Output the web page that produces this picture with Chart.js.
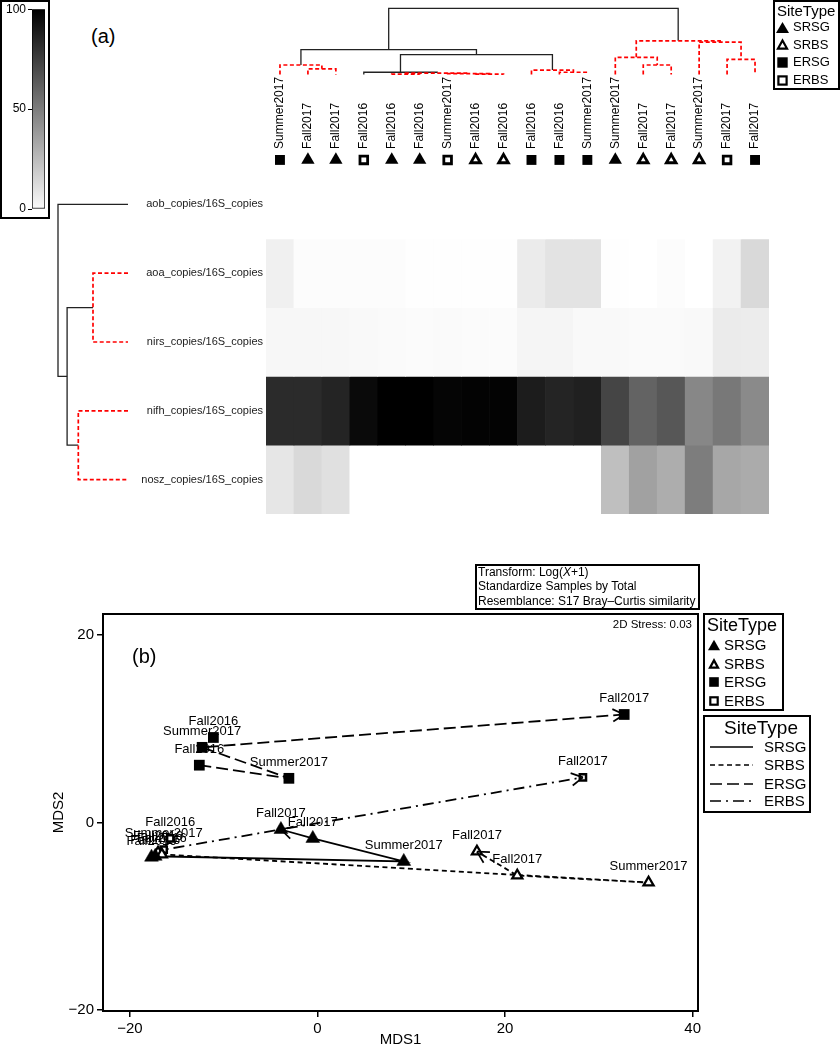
<!DOCTYPE html>
<html>
<head>
<meta charset="utf-8">
<script src="https://cdn.jsdelivr.net/npm/chart.js"></script>
<style>
  body { margin: 0; background: #fff; font-family: "Liberation Sans", Arial, sans-serif; color: #000; }
  #page { position: relative; width: 840px; height: 1050px; overflow: hidden; }
  canvas, .box, .txt, .sym { position: absolute; }
  .box { border: 2px solid #000; box-sizing: border-box; background: #fff; }
  .txt { white-space: nowrap; }
  .sym svg { display: block; }
</style>
</head>
<body>
<div id="page">
  <canvas id="cb" width="50" height="219" style="left:0;top:0"></canvas>
  <canvas id="top" width="531" height="176" style="left:252px;top:0"></canvas>
  <canvas id="rowDendro" width="100" height="355" style="left:40px;top:165px"></canvas>
  <canvas id="heat" width="660" height="355" style="left:130px;top:165px"></canvas>
  <canvas id="mds" width="840" height="510" style="left:0;top:540px"></canvas>
</div>
<script>
const FONT = '"Liberation Sans", Arial, sans-serif';
Chart.defaults.font.family = FONT;
Chart.defaults.color = '#000';

// ---------- panel (a): heatmap ----------
const colLabels = ['Summer2017', 'Fall2017', 'Fall2017', 'Fall2016', 'Fall2016', 'Fall2016', 'Summer2017', 'Fall2016', 'Fall2016',
  'Fall2016', 'Fall2016', 'Summer2017', 'Summer2017', 'Fall2017', 'Fall2017', 'Summer2017', 'Fall2017', 'Fall2017'];
const colTypes = ['ERSG', 'SRSG', 'SRSG', 'ERBS', 'SRSG', 'SRSG', 'ERBS', 'SRBS', 'SRBS',
  'ERSG', 'ERSG', 'ERSG', 'SRSG', 'SRBS', 'SRBS', 'SRBS', 'ERBS', 'ERSG'];
const rowLabels = ['aob_copies/16S_copies', 'aoa_copies/16S_copies', 'nirs_copies/16S_copies', 'nifh_copies/16S_copies', 'nosz_copies/16S_copies'];

const aob = [0, 0, 0, 0, 0, 0, 0, 0, 0, 0, 0, 0, 0, 0, 0, 0, 0, 0];
const aoa = [6, 1, 1, 1, 1, 0.5, 0.5, 0.5, 0.5, 8, 11, 11, 0.5, 0, 1, 0, 5, 15];
const nirs = [3, 3, 3, 2.5, 2, 1.5, 2, 1.5, 1.5, 4, 4, 2.5, 2.5, 2, 2, 2.5, 8, 7.5];
const nifh = [83, 83, 86, 96, 100, 100, 98, 99, 99, 89, 86, 87.5, 73, 61, 66, 47, 53, 46];
const nosz = [10, 15, 12, 0, 0, 0, 0, 0, 0, 0, 0, 0, 25, 37, 32, 51, 34.5, 33];
const heatRows = [aob, aoa, nirs, nifh, nosz];

// dendrograms: [left, right, height]; negative = leaf position, positive = earlier merge (1-based)
const colMerges = [[-2, -3, 0.087], [-1, 1, 0.145], [-5, -6, 0.008], [-8, -9, 0.006], [-7, 4, 0.014], [3, 5, 0.022],
  [-4, 6, 0.035], [-11, -12, 0.035], [-10, 8, 0.068], [7, 9, 0.30], [2, 10, 0.377], [-14, -15, 0.145], [-13, 12, 0.26],
  [-17, -18, 0.23], [-16, 14, 0.49], [13, 15, 0.51], [11, 16, 1.0]];
const colMergeRed = [1, 1, 1, 1, 1, 1, 0, 1, 1, 0, 0, 1, 1, 1, 1, 1, 0];
const rowMerges = [[-2, -3, 0.5], [-4, -5, 0.71], [1, 2, 0.87], [-1, 3, 1.0]];
const rowMergeRed = [1, 1, 0, 0];

const cbTicks = [0, 50, 100];

// ---------- panel (b): nMDS ----------
const srsgX = [-17.7, -17.3, -3.9, -0.5, 9.2];
const srsgY = [-3.7, -3.6, -0.75, -1.7, -4.15];
const srsgLab = ['Fall2016', 'Fall2016', 'Fall2017', 'Fall2017', 'Summer2017'];
const srbsX = [-17.0, -16.6, 17.0, 21.3, 35.3];
const srbsY = [-3.2, -3.4, -3.1, -5.65, -6.4];
const srbsLab = ['Fall2016', 'Fall2016', 'Fall2017', 'Fall2017', 'Summer2017'];
const ersgX = [-11.1, -12.3, -12.6, -3.05, 32.7];
const ersgY = [9.05, 8.0, 6.1, 4.7, 11.5];
const ersgLab = ['Fall2016', 'Summer2017', 'Fall2016', 'Summer2017', 'Fall2017'];
const erbsX = [-15.7, -16.4, 28.3];
const erbsY = [-1.7, -2.9, 4.8];
const erbsLab = ['Fall2016', 'Summer2017', 'Fall2017'];
// trajectories: indices into the arrays above, arrow at the last one
const srsgPath = [1, 4, 3, 2];
const srbsPath = [1, 4, 3, 2];
const ersgPath = [2, 3, 1, 4];
const erbsPath = [0, 1, 2];
const mdsXTicks = [-20, 0, 20, 40];
const mdsYTicks = [-20, 0, 20];

const siteTypes = ['SRSG', 'SRBS', 'ERSG', 'ERBS'];

// ---------- helpers ----------
const gray = v => { const g = Math.round(255 * (1 - v / 100)); return `rgb(${g},${g},${g})`; };
const isFilled = t => t === 'SRSG' || t === 'ERSG';
const isTri = t => t === 'SRSG' || t === 'SRBS';
const lineDash = { SRSG: [], SRBS: [5, 3.5], ERSG: [12, 5], ERBS: [11, 5, 2, 5] };

function dendroNodes(merges) {
  const pos = [], hgt = [];
  const get = k => k < 0 ? [-k, 0] : [pos[k - 1], hgt[k - 1]];
  return merges.map(([a, b, h], i) => {
    const [xa, ha] = get(a), [xb, hb] = get(b);
    pos[i] = (xa + xb) / 2; hgt[i] = h;
    return [[xa, ha], [xa, h], [xb, h], [xb, hb]];
  });
}
function dendroStyle(red) {
  return red
    ? { borderColor: '#ff0000', borderWidth: 1.7, borderDash: [4, 2.5] }
    : { borderColor: '#222', borderWidth: 1.3, borderDash: [] };
}
const baseOpts = {
  responsive: false, animation: false, events: [],
  plugins: { legend: { display: false }, tooltip: { enabled: false } },
};

// ---------- colour bar ----------
new Chart(document.getElementById('cb'), {
  type: 'bar',
  data: {
    labels: [''],
    datasets: [{
      data: [100],
      backgroundColor: c => {
        const a = c.chart.chartArea;
        if (!a) return '#888';
        const g = c.chart.ctx.createLinearGradient(0, a.bottom, 0, a.top);
        g.addColorStop(0, '#fafafa');
        g.addColorStop(1, '#000');
        return g;
      },
      borderColor: '#000', borderWidth: 1, borderSkipped: false,
      barPercentage: 1, categoryPercentage: 1,
    }],
  },
  options: {
    ...baseOpts,
    layout: { padding: { top: 9, bottom: 10, right: 5, left: 0 } },
    scales: {
      x: { display: false },
      y: {
        min: 0, max: 100,
        afterBuildTicks: s => { s.ticks = cbTicks.map(v => ({ value: v })); },
        afterFit: s => { s.width = 32; },
        grid: { drawOnChartArea: false, tickLength: 4, color: '#000' },
        border: { display: false },
        ticks: { padding: 2, font: { size: 12 }, color: '#000' },
      },
    },
  },
});

// ---------- column dendrogram, markers and labels ----------
const markerLevel = -1.29;
const colNodes = dendroNodes(colMerges);
const topDatasets = colNodes.map((seg, i) => ({
  type: 'line',
  data: seg.map(([x, y]) => ({ x, y })),
  pointRadius: 0, fill: false, tension: 0, clip: false,
  ...dendroStyle(colMergeRed[i]),
}));
topDatasets.push({
  type: 'scatter',
  data: colTypes.map((t, i) => ({ x: i + 1, y: markerLevel })),
  pointStyle: colTypes.map(t => isTri(t) ? 'triangle' : 'rect'),
  pointRadius: colTypes.map(t => isTri(t) ? (isFilled(t) ? 7.7 : 5.6) : (isFilled(t) ? 7 : 5.4)),
  pointBackgroundColor: colTypes.map(t => isFilled(t) ? '#000' : '#fff'),
  pointBorderColor: '#000',
  pointBorderWidth: colTypes.map(t => isFilled(t) ? 0 : 2.8),
  clip: false,
});
const colLabelPlugin = {
  id: 'colLabels',
  afterDatasetsDraw(chart) {
    const { ctx, scales: { x, y } } = chart;
    ctx.save();
    ctx.font = '12px ' + FONT;
    ctx.fillStyle = '#000';
    ctx.textAlign = 'left';
    ctx.textBaseline = 'middle';
    const y0 = y.getPixelForValue(markerLevel) - 11;
    colLabels.forEach((lab, i) => {
      ctx.save();
      ctx.translate(x.getPixelForValue(i + 1), y0);
      ctx.rotate(-Math.PI / 2);
      ctx.fillText(lab, 0, 0);
      ctx.restore();
    });
    ctx.restore();
  },
};
new Chart(document.getElementById('top'), {
  type: 'scatter',
  data: { datasets: topDatasets },
  options: {
    ...baseOpts,
    layout: { padding: { left: 14, right: 14, top: 4, bottom: 6 } },
    scales: {
      x: { type: 'linear', display: false, min: 0.5, max: 18.5 },
      y: { type: 'linear', display: false, min: -97 / 69, max: 1 },
    },
  },
  plugins: [colLabelPlugin],
});

// ---------- row dendrogram ----------
const rowNodes = dendroNodes(rowMerges);
new Chart(document.getElementById('rowDendro'), {
  type: 'scatter',
  data: {
    datasets: rowNodes.map((seg, i) => ({
      type: 'line',
      data: seg.map(([p, h]) => ({ x: h, y: p })),
      pointRadius: 0, fill: false, tension: 0, clip: false,
      ...dendroStyle(rowMergeRed[i]),
    })),
  },
  options: {
    ...baseOpts,
    layout: { padding: { left: 18, right: 12, top: 5, bottom: 6 } },
    scales: {
      x: { type: 'linear', display: false, min: 0, max: 1, reverse: true },
      y: { type: 'linear', display: false, min: 0.5, max: 5.5, reverse: true },
    },
  },
});

// ---------- heatmap ----------
const rowLabelPlugin = {
  id: 'rowLabels',
  afterDatasetsDraw(chart) {
    const { ctx, chartArea, scales: { y } } = chart;
    ctx.save();
    ctx.font = '11px ' + FONT;
    ctx.fillStyle = '#222';
    ctx.textAlign = 'right';
    ctx.textBaseline = 'middle';
    rowLabels.forEach((lab, r) => ctx.fillText(lab, chartArea.left - 3, y.getPixelForValue(r + 0.5)));
    ctx.restore();
  },
};
new Chart(document.getElementById('heat'), {
  type: 'bar',
  data: {
    labels: colLabels.map((_, i) => String(i + 1)),
    datasets: heatRows.map((vals, r) => ({
      data: vals.map(() => [r, r + 1]),
      backgroundColor: vals.map(gray),
      borderWidth: 0,
      barPercentage: 1, categoryPercentage: 1,
      grouped: false,
    })),
  },
  options: {
    ...baseOpts,
    layout: { padding: { left: 136, right: 21, top: 5, bottom: 6 } },
    scales: {
      x: { display: false },
      y: { type: 'linear', display: false, min: 0, max: 5, reverse: true },
    },
  },
  plugins: [rowLabelPlugin],
});

// ---------- panel (b) ----------
const groups = [
  { type: 'SRSG', xs: srsgX, ys: srsgY, labs: srsgLab, path: srsgPath },
  { type: 'SRBS', xs: srbsX, ys: srbsY, labs: srbsLab, path: srbsPath },
  { type: 'ERSG', xs: ersgX, ys: ersgY, labs: ersgLab, path: ersgPath },
  { type: 'ERBS', xs: erbsX, ys: erbsY, labs: erbsLab, path: erbsPath },
];
const markerStyle = {
  SRSG: { pointStyle: 'triangle', pointBackgroundColor: '#000', pointRadius: 8, pointBorderWidth: 0.5 },
  SRBS: { pointStyle: 'triangle', pointBackgroundColor: '#fff', pointRadius: 5.8, pointBorderWidth: 2.3 },
  ERSG: { pointStyle: 'rect', pointBackgroundColor: '#000', pointRadius: 7.6, pointBorderWidth: 0 },
  ERBS: { pointStyle: 'rect', pointBackgroundColor: '#fff', pointRadius: 4.4, pointBorderWidth: 2.5 },
};
const mdsDatasets = [];
groups.forEach(g => {
  mdsDatasets.push({
    label: g.type,
    data: g.xs.map((x, i) => ({ x, y: g.ys[i] })),
    pointLabels: g.labs,
    pointBorderColor: '#000',
    showLine: false,
    order: 0,
    ...markerStyle[g.type],
  });
});
groups.forEach(g => {
  mdsDatasets.push({
    label: g.type + ' trajectory',
    data: g.path.map(i => ({ x: g.xs[i], y: g.ys[i] })),
    showLine: true, pointRadius: 0, fill: false, tension: 0,
    borderColor: '#000', borderWidth: 1.8, borderDash: lineDash[g.type],
    arrow: true,
    order: 1,
  });
});
const mdsDecor = {
  id: 'mdsDecor',
  beforeDatasetsDraw(chart) {
    const ctx = chart.ctx;
    ctx.save();
    ctx.font = '13px ' + FONT;
    ctx.fillStyle = '#000';
    ctx.textAlign = 'center';
    ctx.textBaseline = 'middle';
    chart.data.datasets.forEach((ds, di) => {
      if (!ds.pointLabels) return;
      chart.getDatasetMeta(di).data.forEach((pt, i) => ctx.fillText(ds.pointLabels[i], pt.x, pt.y - 16));
    });
    ctx.restore();
  },
  afterDatasetsDraw(chart) {
    const { ctx, chartArea: a } = chart;
    ctx.save();
    ctx.strokeStyle = '#000';
    ctx.setLineDash([]);
    ctx.lineWidth = 1.7;
    chart.data.datasets.forEach((ds, di) => {
      if (!ds.arrow) return;
      const pts = chart.getDatasetMeta(di).data;
      const p = pts[pts.length - 1], q = pts[pts.length - 2];
      const ang = Math.atan2(q.y - p.y, q.x - p.x);
      [-0.5, 0.5].forEach(d => {
        ctx.beginPath();
        ctx.moveTo(p.x, p.y);
        ctx.lineTo(p.x + 13 * Math.cos(ang + d), p.y + 13 * Math.sin(ang + d));
        ctx.stroke();
      });
    });
    ctx.lineWidth = 2;
    ctx.strokeRect(a.left, a.top, a.right - a.left, a.bottom - a.top);
    ctx.restore();
  },
};
const minus = v => String(v).replace('-', '\u2212');
new Chart(document.getElementById('mds'), {
  type: 'scatter',
  data: { datasets: mdsDatasets },
  options: {
    ...baseOpts,
    layout: { padding: { left: 0, right: 142, top: 74, bottom: 0 } },
    scales: {
      x: {
        type: 'linear', position: 'bottom', min: -22.87, max: 40.57,
        afterBuildTicks: s => { s.ticks = mdsXTicks.map(v => ({ value: v })); },
        afterFit: s => { s.height = 39; },
        grid: { drawOnChartArea: false, tickLength: 6, color: '#000', lineWidth: 1.5 },
        border: { display: false },
        ticks: { padding: 3, font: { size: 15 }, color: '#000', callback: minus, maxRotation: 0 },
        title: { display: true, text: 'MDS1', font: { size: 15 }, color: '#000', padding: { top: 0, bottom: 1 } },
      },
      y: {
        type: 'linear', position: 'left', min: -20.08, max: 22.2,
        afterBuildTicks: s => { s.ticks = mdsYTicks.map(v => ({ value: v })); },
        afterFit: s => { s.width = 103; },
        grid: { drawOnChartArea: false, tickLength: 6, color: '#000', lineWidth: 1.5 },
        border: { display: false },
        ticks: { padding: 3, font: { size: 15 }, color: '#000', callback: minus },
        title: { display: true, text: 'MDS2', font: { size: 15 }, color: '#000', padding: { top: 50, bottom: 0 } },
      },
    },
  },
  plugins: [mdsDecor],
});

// ---------- text, boxes and legends ----------
const page = document.getElementById('page');
function box(x, y, w, h) {
  const d = document.createElement('div');
  d.className = 'box';
  Object.assign(d.style, { left: x + 'px', top: y + 'px', width: w + 'px', height: h + 'px' });
  page.insertBefore(d, page.firstChild);
}
function put(html, x, cy, size, align) {
  const d = document.createElement('div');
  d.className = 'txt';
  d.innerHTML = html;
  Object.assign(d.style, {
    left: x + 'px', top: (cy - size * 0.6) + 'px',
    fontSize: size + 'px', lineHeight: (size * 1.2) + 'px',
  });
  if (align === 'center') d.style.transform = 'translateX(-50%)';
  if (align === 'right') d.style.transform = 'translateX(-100%)';
  page.appendChild(d);
}
function symbol(t, cx, cy, s) {
  const w = s + 4, c = w / 2, sw = isFilled(t) ? 0 : 2.2, fill = isFilled(t) ? '#000' : '#fff';
  let shape;
  if (isTri(t)) {
    const hw = s / 2 - sw * 0.9, hh = s * 0.43 - sw * 0.7;
    shape = `<polygon points="${c},${c - hh} ${c + hw},${c + hh} ${c - hw},${c + hh}" fill="${fill}" stroke="#000" stroke-width="${sw}"/>`;
  } else {
    const e = s * 0.8 - sw;
    shape = `<rect x="${c - e / 2}" y="${c - e / 2}" width="${e}" height="${e}" fill="${fill}" stroke="#000" stroke-width="${sw}"/>`;
  }
  const d = document.createElement('div');
  d.className = 'sym';
  Object.assign(d.style, { left: (cx - c) + 'px', top: (cy - c) + 'px' });
  d.innerHTML = `<svg width="${w}" height="${w}">${shape}</svg>`;
  page.appendChild(d);
}
function lineSample(t, x0, x1, cy) {
  const d = document.createElement('div');
  d.className = 'sym';
  Object.assign(d.style, { left: x0 + 'px', top: (cy - 2) + 'px' });
  d.innerHTML = `<svg width="${x1 - x0}" height="4"><line x1="0" y1="2" x2="${x1 - x0}" y2="2" stroke="#000" stroke-width="1.6" stroke-dasharray="${lineDash[t].join(',') || 'none'}"/></svg>`;
  page.appendChild(d);
}

box(0, 0, 50, 219);
put('(a)', 91, 36, 20);

box(773, 0, 67, 90);
put('SiteType', 777, 11, 15);
[27, 44.5, 62, 80].forEach((y, i) => {
  symbol(siteTypes[i], 782.5, y, 13);
  put(siteTypes[i], 793, y, 13);
});

put('(b)', 132, 656, 20);
put('2D Stress: 0.03', 692, 625, 11.5, 'right');
box(475, 564, 225, 46);
put('Transform: Log(<i>X</i>+1)', 478, 572.5, 12);
put('Standardize Samples by Total', 478, 586.5, 12);
put('Resemblance: S17 Bray\u2013Curtis similarity', 478, 601, 12);

box(703, 613, 81, 98);
put('SiteType', 707, 626, 18);
[645, 663.5, 682, 701].forEach((y, i) => {
  symbol(siteTypes[i], 713.5, y, 12);
  put(siteTypes[i], 724, y, 15);
});

box(703, 715, 108, 98);
put('SiteType', 761, 728, 19, 'center');
[747, 765, 783.5, 801].forEach((y, i) => {
  lineSample(siteTypes[i], 710, 753, y);
  put(siteTypes[i], 764, y, 15);
});
</script>
</body>
</html>
